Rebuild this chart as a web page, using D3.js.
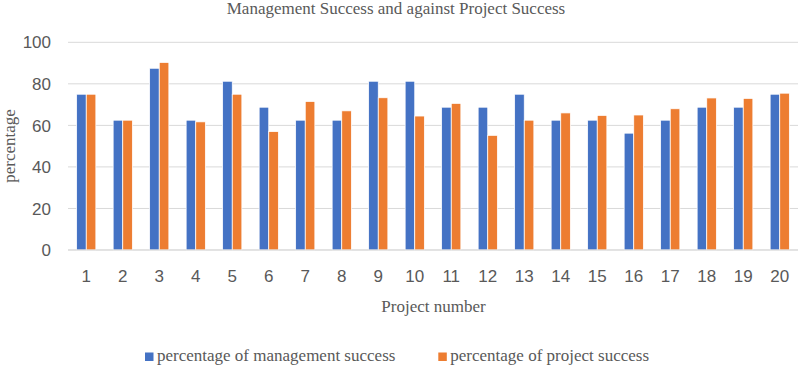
<!DOCTYPE html>
<html>
<head>
<meta charset="utf-8">
<script src="https://cdn.jsdelivr.net/npm/d3@7"></script>
<style>
  html, body { margin: 0; padding: 0; background: #fff; }
  svg { display: block; }
</style>
</head>
<body>
<svg id="chart" width="800" height="366"></svg>
<script>
const projects = ["1","2","3","4","5","6","7","8","9","10","11","12","13","14","15","16","17","18","19","20"];
const seriesNames = ["percentage of management success", "percentage of project success"];
const managementSuccess = [75, 62.5, 87.5, 62.5, 81.25, 68.75, 62.5, 62.5, 81.25, 81.25, 68.75, 68.75, 75, 62.5, 62.5, 56.25, 62.5, 68.75, 68.75, 75];
const projectSuccess   = [75, 62.5, 90.3, 61.7, 75, 57, 71.5, 67, 73.3, 64.5, 70.6, 55.2, 62.5, 66, 64.8, 65, 68, 73.2, 73, 75.5];
const yTicks = [0, 20, 40, 60, 80, 100];
const colors = ["#4472C4", "#ED7D31"];

(function () {
const svg = d3.select("#chart");
const mLeft = 68, mRight = 798, mTop = 42.3, mBottom = 250;

const x0 = d3.scaleBand().domain(projects).range([mLeft, mRight]).padding(0);
const step = x0.step();
const groupW = step / 1.9;
const x1 = d3.scaleBand().domain(seriesNames).range([0, groupW]).padding(0);
const y = d3.scaleLinear().domain([0, 100]).range([mBottom, mTop]);

// gridlines
svg.append("g").selectAll("line").data(yTicks).join("line")
  .attr("x1", mLeft).attr("x2", mRight)
  .attr("y1", d => y(d)).attr("y2", d => y(d))
  .attr("stroke", "#d9d9d9").attr("stroke-width", 1);

// y tick labels
svg.append("g").selectAll("text").data(yTicks).join("text")
  .attr("x", 51).attr("y", d => y(d)).attr("dy", "0.36em")
  .attr("text-anchor", "end")
  .attr("font-family", "'Liberation Sans', Arial, sans-serif")
  .attr("font-size", 17).attr("fill", "#595959")
  .text(d => d);

// bars
const data = projects.map((p, i) => ({ p, vals: [managementSuccess[i], projectSuccess[i]] }));
const groups = svg.append("g").selectAll("g").data(data).join("g")
  .attr("transform", d => `translate(${x0(d.p) + (step - groupW) / 2},0)`);
groups.selectAll("rect").data(d => d.vals.map((v, k) => ({ v, s: seriesNames[k], k })))
  .join("rect")
  .attr("x", d => x1(d.s))
  .attr("width", x1.bandwidth())
  .attr("y", d => y(d.v))
  .attr("height", d => y(0) - y(d.v))
  .attr("fill", d => colors[d.k])
  .attr("stroke", "#fff").attr("stroke-width", 0.75);

// x axis line
svg.append("line").attr("x1", mLeft).attr("x2", mRight).attr("y1", y(0)).attr("y2", y(0))
  .attr("stroke", "#d9d9d9").attr("stroke-width", 1);

// x tick labels
svg.append("g").selectAll("text").data(projects).join("text")
  .attr("x", d => x0(d) + step / 2).attr("y", 282)
  .attr("text-anchor", "middle")
  .attr("font-family", "'Liberation Sans', Arial, sans-serif")
  .attr("font-size", 17).attr("fill", "#595959")
  .text(d => d);

// title
svg.append("text").attr("x", 396).attr("y", 14).attr("text-anchor", "middle")
  .attr("font-family", "'Liberation Serif', 'Times New Roman', serif")
  .attr("font-size", 17).attr("fill", "#595959")
  .text("Management Success and against Project Success");

// axis titles
svg.append("text").attr("x", 433.5).attr("y", 312).attr("text-anchor", "middle")
  .attr("font-family", "'Liberation Serif', 'Times New Roman', serif")
  .attr("font-size", 17).attr("fill", "#595959")
  .text("Project number");

svg.append("text").attr("transform", "translate(15,146) rotate(-90)").attr("text-anchor", "middle")
  .attr("font-family", "'Liberation Serif', 'Times New Roman', serif")
  .attr("font-size", 17).attr("fill", "#595959")
  .text("percentage");

// legend
const legendX = [145, 438.3];
const lg = svg.append("g").selectAll("g").data(seriesNames).join("g")
  .attr("transform", (d, i) => `translate(${legendX[i]},0)`);
lg.append("rect").attr("x", 0).attr("y", 352.5).attr("width", 8.5).attr("height", 8.5)
  .attr("fill", (d, i) => colors[i]);
lg.append("text").attr("x", 12).attr("y", 361)
  .attr("font-family", "'Liberation Serif', 'Times New Roman', serif")
  .attr("font-size", 17).attr("fill", "#595959")
  .text(d => d);
})();
</script>
</body>
</html>
